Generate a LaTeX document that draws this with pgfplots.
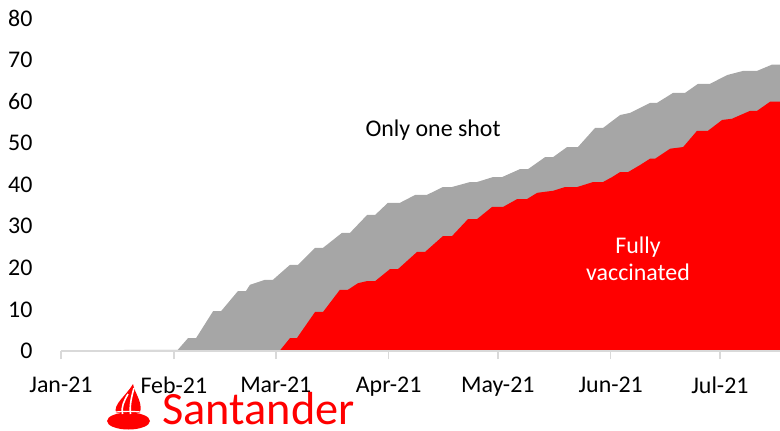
\documentclass[border=0pt]{standalone}
\usepackage{fontspec}
\setmainfont{Carlito}
\usepackage{pgfplots}
\usepackage{pgfplotstable}
\pgfplotsset{compat=1.18}
\definecolor{gshot}{HTML}{A6A6A6}
\definecolor{sred}{HTML}{FF0000}
\definecolor{axgray}{HTML}{D9D9D9}
\pgfplotstableread{
d v
0 0
17 0
17.5 0.3
32.1 0.3
34.9 3.1
37.1 3.1
41.8 9.6
44.0 9.6
48.6 14.4
50.8 14.4
51.9 15.9
56.0 17.1
58.2 17.1
62.9 20.7
65.1 20.7
69.8 24.8
72.0 24.8
77.2 28.4
79.4 28.4
84.1 32.7
86.3 32.7
89.8 35.6
93.1 35.6
97.3 37.5
100.5 37.5
104.9 39.4
107.4 39.4
112.4 40.6
114.3 40.6
118.7 41.8
121.2 41.8
126.1 43.7
128.3 43.7
133.0 46.6
135.2 46.6
139.0 49.0
142.0 49.0
146.7 53.6
148.9 53.6
153.6 56.7
156.3 57.2
161.8 59.6
163.7 59.6
168.1 62.0
171.4 62.0
175.0 64.2
178.3 64.2
183.0 66.3
187.4 67.3
191.2 67.3
195.3 68.8
197.5 68.8
}\onedose
\pgfplotstableread{
d v
0 0
38 0
38.5 0.2
60.2 0.2
62.9 3.1
64.8 3.1
69.8 9.4
72.0 9.4
76.6 14.7
78.8 14.7
81.6 16.3
84.1 16.8
86.3 16.8
90.4 19.7
92.6 19.7
97.8 23.8
100.0 23.8
104.9 27.6
107.4 27.6
111.8 31.7
114.3 31.7
118.4 34.6
121.4 34.6
125.3 36.5
128.0 36.5
130.8 38.0
135.2 38.5
138.5 39.4
141.8 39.4
146.2 40.6
148.9 40.6
151.4 41.8
153.6 43.0
155.8 43.0
159.1 44.7
161.8 46.2
163.2 46.2
167.3 48.6
170.9 49.0
174.7 52.9
177.7 52.9
181.6 55.5
184.3 55.8
189.3 57.7
191.2 57.7
194.8 59.9
197.5 59.9
}\fully
\begin{document}
\begin{tikzpicture}[x=1bp,y=1bp]
\path[use as bounding box] (0,0) rectangle (780,430);
\begin{axis}[
  at={(61bp,79bp)}, anchor=south west,
  scale only axis, width=719bp, height=333bp,
  xmin=0, xmax=197.5, ymin=0, ymax=80,
  axis x line*=bottom, axis y line*=left,
  y axis line style={draw=none},
  x axis line style={draw=axgray, line width=1.5bp},
  ytick={0,10,...,80}, ytick style={draw=none},
  xtick={0,31,59,90,120,151,181},
  xticklabels={Jan-21,Feb-21,Mar-21,Apr-21,May-21,Jun-21,Jul-21},
  xtick style={draw=axgray, line width=1.5bp},
  tick align=outside, major tick length=8bp,
  tick label style={font=\fontsize{24}{27}\selectfont},
  /pgf/number format/assume math mode=true,
  yticklabel style={xshift=-17bp},
  xticklabel style={yshift=-14bp},
  axis on top,
  clip=false,
]
\addplot[fill=gshot, draw=none] table[x=d,y=v]{\onedose} \closedcycle;
\addplot[fill=sred, draw=none] table[x=d,y=v]{\fully} \closedcycle;
\node[font=\fontsize{24}{27}\selectfont] at (axis cs:102.2,53.1) {Only one shot};
\node[font=\fontsize{24}{27}\selectfont, text=white, align=center] at (axis cs:158.5,22.2) {Fully\\vaccinated};
\end{axis}
% Santander logo
\fill[sred] (128.5,9) ellipse [x radius=21.5, y radius=8.5];
\fill[sred] (116,17) .. controls (113,26) and (126,34) .. (133,46) .. controls (135,36) and (143,28) .. (140,17) -- cycle;
\draw[white, line width=1.6bp] (122.5,16) .. controls (121,23) and (124,29) .. (128,36);
\draw[white, line width=1.6bp] (130.5,16) .. controls (129.5,25) and (131.5,33) .. (134,42);
\draw[white, line width=1.2bp] (112,17.5) .. controls (122,19) and (134,19) .. (145,17.5);
\node[text=sred, font=\fontsize{46.5}{47}\selectfont, anchor=base west, inner sep=0pt] at (162,6) {Santander};
\end{tikzpicture}
\end{document}
